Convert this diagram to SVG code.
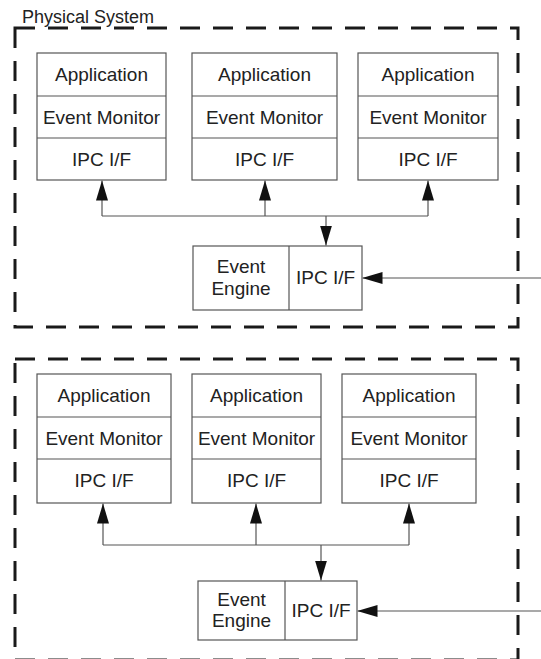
<svg xmlns="http://www.w3.org/2000/svg" width="541" height="659" viewBox="0 0 541 659">
<style>
.sys{fill:none;stroke:#1a1a1a;stroke-width:3;stroke-dasharray:20 13}
.box{fill:#fff;stroke:#555;stroke-width:1.2}
.div{stroke:#555;stroke-width:1.2}
.t{font-family:"Liberation Sans",Arial,sans-serif;font-size:19px;fill:#222;text-anchor:middle}
.lbl{font-family:"Liberation Sans",Arial,sans-serif;font-size:18px;fill:#222}
.ln{fill:none;stroke:#555;stroke-width:1.2}
</style>
<defs>
<marker id="ah" viewBox="0 0 20 12" refX="20" refY="6" markerWidth="20" markerHeight="12" markerUnits="userSpaceOnUse" orient="auto">
<path d="M0,0 L20,6 L0,12 Z" fill="#111"/>
</marker>
</defs>
<rect width="541" height="659" fill="#fff"/>
<g id="system1">
<text class="lbl" x="22" y="23">Physical System</text>
<rect class="sys" x="15" y="28" width="503" height="299"/>
</g>
<g id="app1a">
<rect class="box" x="37" y="53" width="129" height="127"/>
<line class="div" x1="37" y1="96" x2="166" y2="96"/><line class="div" x1="37" y1="138" x2="166" y2="138"/>
<text class="t" x="101.5" y="81">Application</text><text class="t" x="101.5" y="123.5">Event Monitor</text><text class="t" x="101.5" y="166">IPC I/F</text>
</g>
<g id="app2a">
<rect class="box" x="192" y="53" width="145" height="127"/>
<line class="div" x1="192" y1="96" x2="337" y2="96"/><line class="div" x1="192" y1="138" x2="337" y2="138"/>
<text class="t" x="264.5" y="81">Application</text><text class="t" x="264.5" y="123.5">Event Monitor</text><text class="t" x="264.5" y="166">IPC I/F</text>
</g>
<g id="app3a">
<rect class="box" x="358" y="53" width="140" height="127"/>
<line class="div" x1="358" y1="96" x2="498" y2="96"/><line class="div" x1="358" y1="138" x2="498" y2="138"/>
<text class="t" x="428" y="81">Application</text><text class="t" x="428" y="123.5">Event Monitor</text><text class="t" x="428" y="166">IPC I/F</text>
</g>
<g id="enginea">
<rect class="box" x="193" y="246" width="169" height="64"/>
<line class="div" x1="289" y1="246" x2="289" y2="310"/>
<text class="t" x="241" y="273">Event</text><text class="t" x="241" y="295">Engine</text>
<text class="t" x="325.5" y="284">IPC I/F</text>
</g>
<g id="system2">
<rect class="sys" x="15" y="359" width="503" height="301"/>
</g>
<g id="app1b">
<rect class="box" x="37" y="374" width="134" height="129"/>
<line class="div" x1="37" y1="417" x2="171" y2="417"/><line class="div" x1="37" y1="459" x2="171" y2="459"/>
<text class="t" x="104" y="402">Application</text><text class="t" x="104" y="444.5">Event Monitor</text><text class="t" x="104" y="487">IPC I/F</text>
</g>
<g id="app2b">
<rect class="box" x="192" y="374" width="129" height="129"/>
<line class="div" x1="192" y1="417" x2="321" y2="417"/><line class="div" x1="192" y1="459" x2="321" y2="459"/>
<text class="t" x="256.5" y="402">Application</text><text class="t" x="256.5" y="444.5">Event Monitor</text><text class="t" x="256.5" y="487">IPC I/F</text>
</g>
<g id="app3b">
<rect class="box" x="342" y="374" width="134" height="129"/>
<line class="div" x1="342" y1="417" x2="476" y2="417"/><line class="div" x1="342" y1="459" x2="476" y2="459"/>
<text class="t" x="409" y="402">Application</text><text class="t" x="409" y="444.5">Event Monitor</text><text class="t" x="409" y="487">IPC I/F</text>
</g>
<g id="engineb">
<rect class="box" x="198" y="581" width="159" height="59"/>
<line class="div" x1="285" y1="581" x2="285" y2="640"/>
<text class="t" x="241.5" y="606">Event</text><text class="t" x="241.5" y="627">Engine</text>
<text class="t" x="321" y="617">IPC I/F</text>
</g>
<g id="connectors">
<path class="ln" d="M102,216 H428"/>
<path class="ln" d="M102,216 V180.5" marker-end="url(#ah)"/>
<path class="ln" d="M265,216 V180.5" marker-end="url(#ah)"/>
<path class="ln" d="M428,216 V180.5" marker-end="url(#ah)"/>
<path class="ln" d="M326,216 V245.5" marker-end="url(#ah)"/>
<path class="ln" d="M541,278 H362.5" marker-end="url(#ah)"/>
<path class="ln" d="M103,545 H409"/>
<path class="ln" d="M103,545 V503.5" marker-end="url(#ah)"/>
<path class="ln" d="M256,545 V503.5" marker-end="url(#ah)"/>
<path class="ln" d="M409,545 V503.5" marker-end="url(#ah)"/>
<path class="ln" d="M321,545 V580.5" marker-end="url(#ah)"/>
<path class="ln" d="M541,611 H357.5" marker-end="url(#ah)"/>
</g>
</svg>
